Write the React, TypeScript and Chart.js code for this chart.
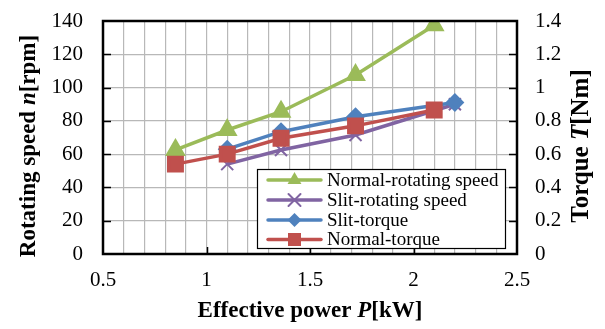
import React, { useEffect, useRef } from "react";
import { Chart, registerables } from "chart.js";

Chart.register(...registerables);

// ---- data ----
const normalPower = [0.85, 1.1, 1.36, 1.72, 2.1];
const normalSpeed = [62.5, 74.5, 85.5, 107.5, 137.5];
const normalTorque = [0.54, 0.6, 0.695, 0.77, 0.865];
const slitPower = [1.1, 1.36, 1.72, 2.2];
const slitSpeed = [54, 62.5, 71.5, 90];
const slitTorque = [0.63, 0.735, 0.825, 0.91];

const seriesNames = [
  "Normal-rotating speed",
  "Slit-rotating speed",
  "Slit-torque",
  "Normal-torque",
];
const xTitle = ["Effective power ", "P", "[kW]"];
const yTitle = ["Rotating speed ", "n", "[rpm]"];
const y1Title = ["Torque ", "T", "[Nm]"];

const GREEN = "#9BBB59";
const PURPLE = "#8064A2";
const BLUE = "#4F81BD";
const RED = "#C0504D";
const colors = [GREEN, PURPLE, BLUE, RED];
const styles = ["triangle", "crossRot", "rectRot", "rect"];

const FONT = "'Liberation Serif', serif";

function pts(xs: number[], ys: number[]) {
  return xs.map((x, i) => ({ x, y: ys[i] }));
}

function drawMarker(ctx: CanvasRenderingContext2D, style: string, x: number, y: number, color: string) {
  ctx.save();
  ctx.fillStyle = color;
  ctx.strokeStyle = color;
  ctx.beginPath();
  if (style === "triangle") {
    const r = 8;
    ctx.moveTo(x, y - r);
    ctx.lineTo(x + r * Math.sin((2 * Math.PI) / 3), y + r / 2);
    ctx.lineTo(x - r * Math.sin((2 * Math.PI) / 3), y + r / 2);
    ctx.closePath();
    ctx.fill();
  } else if (style === "crossRot") {
    const o = 6;
    ctx.lineWidth = 2;
    ctx.moveTo(x - o, y - o);
    ctx.lineTo(x + o, y + o);
    ctx.moveTo(x + o, y - o);
    ctx.lineTo(x - o, y + o);
    ctx.stroke();
  } else if (style === "rectRot") {
    const r = 7;
    ctx.moveTo(x, y - r);
    ctx.lineTo(x + r, y);
    ctx.lineTo(x, y + r);
    ctx.lineTo(x - r, y);
    ctx.closePath();
    ctx.fill();
  } else {
    const s = 6.5;
    ctx.rect(x - s, y - s, 2 * s, 2 * s);
    ctx.fill();
  }
  ctx.restore();
}

function drawMixed(ctx: CanvasRenderingContext2D, parts: string[], cx: number, cy: number, size: number, rotate: boolean) {
  ctx.save();
  const fonts = [`bold ${size}px ${FONT}`, `italic bold ${size}px ${FONT}`, `bold ${size}px ${FONT}`];
  let total = 0;
  const widths = parts.map((p, i) => {
    ctx.font = fonts[i];
    const w = ctx.measureText(p).width;
    total += w;
    return w;
  });
  ctx.translate(cx, cy);
  if (rotate) ctx.rotate(-Math.PI / 2);
  ctx.fillStyle = "#000";
  ctx.textAlign = "left";
  ctx.textBaseline = "alphabetic";
  let x = -total / 2;
  parts.forEach((p, i) => {
    ctx.font = fonts[i];
    ctx.fillText(p, x, 0);
    x += widths[i];
  });
  ctx.restore();
}

const decorPlugin = {
  id: "decor",
  afterDraw(chart: any) {
    const ctx: CanvasRenderingContext2D = chart.ctx;
    const { left, right, top, bottom } = chart.chartArea;
    const xs = chart.scales.x;
    const ys = chart.scales.y;
    const y1 = chart.scales.y1;
    ctx.save();
    // border
    ctx.strokeStyle = "#000";
    ctx.lineWidth = 2.5;
    ctx.strokeRect(left, top, right - left, bottom - top);
    // inner tick marks
    ctx.lineWidth = 1.5;
    ctx.beginPath();
    for (const v of [1, 1.5, 2]) {
      const px = Math.round(xs.getPixelForValue(v)) + 0.5;
      ctx.moveTo(px, bottom);
      ctx.lineTo(px, bottom - 7);
    }
    for (let v = 20; v < 140; v += 20) {
      const py = Math.round(ys.getPixelForValue(v)) + 0.5;
      ctx.moveTo(left, py);
      ctx.lineTo(left + 8, py);
    }
    for (let i = 1; i < 7; i++) {
      const py = Math.round(y1.getPixelForValue(i * 0.2)) + 0.5;
      ctx.moveTo(right, py);
      ctx.lineTo(right - 8, py);
    }
    ctx.stroke();

    // legend
    const lx = 257, ly = 169, lw = 248, lh = 79;
    ctx.fillStyle = "#fff";
    ctx.fillRect(lx, ly, lw, lh);
    ctx.strokeStyle = "#000";
    ctx.lineWidth = 1.2;
    ctx.strokeRect(lx + 0.5, ly + 0.5, lw, lh);
    const rowY = [180, 200, 220, 239.5];
    seriesNames.forEach((name, i) => {
      const yy = rowY[i];
      ctx.strokeStyle = colors[i];
      ctx.lineWidth = 3.5;
      ctx.lineCap = "round";
      ctx.beginPath();
      ctx.moveTo(268, yy);
      ctx.lineTo(321, yy);
      ctx.stroke();
      drawMarker(ctx, styles[i], 294.5, yy, colors[i]);
      ctx.fillStyle = "#000";
      ctx.font = `19px ${FONT}`;
      ctx.textAlign = "left";
      ctx.textBaseline = "middle";
      ctx.fillText(name, 327, yy + 1);
    });
    ctx.restore();

    // axis titles
    drawMixed(ctx, xTitle, (left + right) / 2, 317, 23, false);
    drawMixed(ctx, yTitle, 35, 146, 23, true);
    drawMixed(ctx, y1Title, 588, 146, 25, true);
  },
};

function zeroPad(s: any) {
  s.paddingTop = 0;
  s.paddingBottom = 0;
  s.paddingLeft = 0;
  s.paddingRight = 0;
}

export default function App() {
  const ref = useRef<HTMLCanvasElement | null>(null);
  useEffect(() => {
    document.body.style.margin = "0";
    if (!ref.current) return;
    Chart.defaults.font.family = FONT;
    const tickFont = () => ({ family: FONT, size: 21 });
    const chart = new Chart(ref.current, {
      type: "line",
      data: {
        datasets: [
          {
            label: seriesNames[0],
            data: pts(normalPower, normalSpeed),
            yAxisID: "y",
            borderColor: GREEN,
            backgroundColor: GREEN,
            pointStyle: "triangle",
            pointRadius: 8.5,
            borderWidth: 3.5,
            order: 4,
          },
          {
            label: seriesNames[1],
            data: pts(slitPower, slitSpeed),
            yAxisID: "y",
            borderColor: PURPLE,
            backgroundColor: PURPLE,
            pointStyle: "crossRot",
            pointRadius: 8.5,
            pointBorderWidth: 2,
            borderWidth: 3.5,
            order: 3,
          },
          {
            label: seriesNames[2],
            data: pts(slitPower, slitTorque),
            yAxisID: "y1",
            borderColor: BLUE,
            backgroundColor: BLUE,
            pointStyle: "rectRot",
            pointRadius: 7,
            borderWidth: 3.5,
            order: 2,
          },
          {
            label: seriesNames[3],
            data: pts(normalPower, normalTorque),
            yAxisID: "y1",
            borderColor: RED,
            backgroundColor: RED,
            pointStyle: "rect",
            pointRadius: 9.5,
            borderWidth: 3.5,
            order: 1,
          },
        ] as any,
      },
      options: {
        animation: false,
        responsive: true,
        maintainAspectRatio: false,
        layout: { padding: { top: 21, left: 0, right: 0, bottom: 0 } },
        plugins: { legend: { display: false }, tooltip: { enabled: false } },
        scales: {
          x: {
            type: "linear",
            min: 0.5,
            max: 2.5,
            afterFit: (s: any) => {
              s.height = 75;
              zeroPad(s);
            },
            ticks: {
              stepSize: 0.1,
              autoSkip: false,
              maxRotation: 0,
              padding: 14,
              color: "#000",
              font: tickFont(),
              callback: (v: any) => {
                const n = Number(v);
                if (Math.abs(n * 2 - Math.round(n * 2)) < 1e-6) return String(Math.round(n * 10) / 10);
                return "";
              },
            },
            grid: { color: "#B8B8B8", lineWidth: 1.2, drawTicks: false },
            border: { display: false },
          },
          y: {
            type: "linear",
            position: "left",
            min: 0,
            max: 140,
            afterFit: (s: any) => {
              s.width = 103;
              zeroPad(s);
            },
            ticks: { stepSize: 20, padding: 20, color: "#000", font: tickFont() },
            grid: { color: "#B8B8B8", lineWidth: 1.2, drawTicks: false },
            border: { display: false },
          },
          y1: {
            type: "linear",
            position: "right",
            min: 0,
            max: 1.4,
            afterFit: (s: any) => {
              s.width = 88;
              zeroPad(s);
            },
            ticks: {
              stepSize: 0.2,
              padding: 18,
              color: "#000",
              font: tickFont(),
              callback: (v: any) => String(Math.round(Number(v) * 10) / 10),
            },
            grid: { drawOnChartArea: false, drawTicks: false },
            border: { display: false },
          },
        },
      } as any,
      plugins: [decorPlugin],
    });
    return () => chart.destroy();
  }, []);
  return (
    <div style={{ position: "relative", width: 605, height: 329 }}>
      <canvas ref={ref} />
    </div>
  );
}
